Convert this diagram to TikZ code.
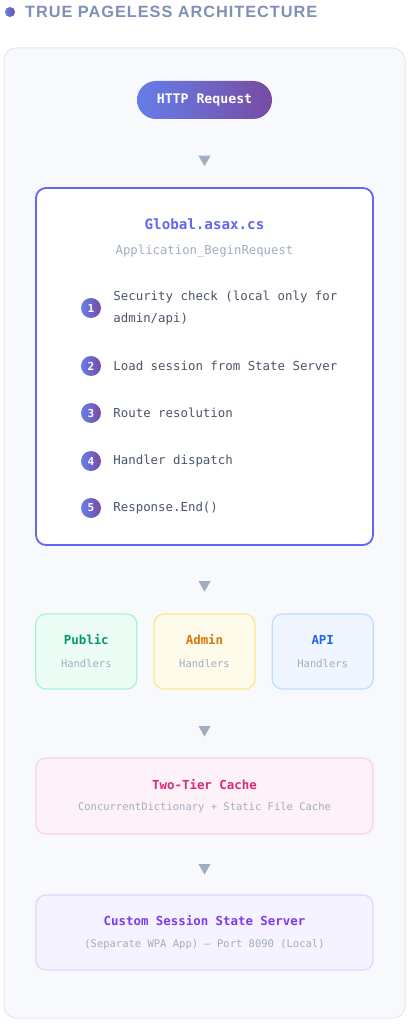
\documentclass[tikz,border=0pt]{standalone}
\usepackage{fontspec}
\usepackage{xcolor}
\usetikzlibrary{positioning, calc, shapes.geometric}
\newfontfamily\codefont{DejaVu Sans Mono}
\newfontfamily\headfont[LetterSpace=6]{Liberation Sans}

\definecolor{gradA}{HTML}{667EEA}
\definecolor{gradB}{HTML}{764BA2}
\definecolor{panelfill}{HTML}{F8F9FC}
\definecolor{panelline}{HTML}{E2E8F0}
\definecolor{indigo}{HTML}{6366F1}
\definecolor{muted}{HTML}{A0AEC0}
\definecolor{steptext}{HTML}{4A5568}
\definecolor{headgray}{HTML}{7F8FB6}
\definecolor{pubfill}{HTML}{ECFDF5}
\definecolor{publine}{HTML}{A7F3D0}
\definecolor{pubtext}{HTML}{059669}
\definecolor{admfill}{HTML}{FFFBEB}
\definecolor{admline}{HTML}{FDE68A}
\definecolor{admtext}{HTML}{D97706}
\definecolor{apifill}{HTML}{EFF6FF}
\definecolor{apiline}{HTML}{BFDBFE}
\definecolor{apitext}{HTML}{2563EB}
\definecolor{cachefill}{HTML}{FDF2F8}
\definecolor{cacheline}{HTML}{FBCFE8}
\definecolor{cachetext}{HTML}{DB2777}
\definecolor{sessfill}{HTML}{F5F3FF}
\definecolor{sessline}{HTML}{DDD6FE}
\definecolor{sesstext}{HTML}{7C3AED}

\def\midx{204.5}
\def\fullwidth{337}
\def\smallwidth{101}
\def\boxheight{75}

\tikzset{
  panel/.style={draw=panelline, line width=1pt, fill=panelfill, rounded corners=12pt},
  pill/.style={rounded corners=19pt, left color=gradA, right color=gradB, minimum width=135pt,
    minimum height=38pt, text=white, font=\codefont\bfseries\fontsize{13.2}{15}\selectfont},
  mainbox/.style={draw=indigo, line width=1.8pt, fill=white, rounded corners=10pt,
    minimum width=\fullwidth pt, minimum height=357pt},
  layerbox/.style={line width=1.2pt, rounded corners=10pt, minimum height=\boxheight pt},
  boxtitle/.style={font=\codefont\bfseries\fontsize{12.4}{14}\selectfont, inner sep=0pt},
  boxsub/.style={text=muted, font=\codefont\fontsize{10.5}{12}\selectfont, inner sep=0pt},
  stepdot/.style={circle, left color=gradA, right color=gradB, minimum size=20pt, inner sep=0pt,
    text=white, font=\codefont\bfseries\fontsize{11}{12}\selectfont},
  steplabel/.style={anchor=west, inner sep=0pt, align=left, text=steptext,
    font=\codefont\fontsize{12.4}{22}\selectfont},
  downtri/.style={regular polygon, regular polygon sides=3, shape border rotate=180,
    fill=muted, inner sep=0pt, minimum size=14pt}
}

\begin{document}
\begin{tikzpicture}[x=1pt, y=-1pt]
\useasboundingbox (0,0) rectangle (409,1024);

% heading
\shade[left color=gradA, right color=gradB] (10,12) circle (5);
\node[anchor=west, inner sep=0pt, text=headgray, font=\headfont\bfseries\fontsize{16.3}{18}\selectfont]
  (heading) at (25,12) {TRUE PAGELESS ARCHITECTURE};

% outer panel
\draw[panel] (4,48) rectangle (405,1018);

% request
\node[pill] (http) at (\midx,100) {HTTP Request};

% global.asax
\node[mainbox] (global) at (\midx,366.5) {};
\node[boxtitle, text=indigo, font=\codefont\bfseries\fontsize{14.2}{16}\selectfont]
  (globalT) at (\midx,224) {Global.asax.cs};
\node[boxsub, font=\codefont\fontsize{12.3}{14}\selectfont] (globalS) at (\midx,251) {Application\_BeginRequest};

\foreach \n/\y/\txt in {1/308/{Security check (local only for\\admin/api)},
                        2/366/{Load session from State Server},
                        3/413/{Route resolution},
                        4/461/{Handler dispatch},
                        5/508/{Response.End()}}{
  \node[stepdot] (dot\n) at (91,\y) {\n};
  \node[steplabel, right=12pt of dot\n] (step\n) {\txt};
}

% handlers
\node[layerbox, draw=admline, fill=admfill, minimum width=\smallwidth pt] (admin) at (\midx,651.5) {};
\node[layerbox, draw=publine, fill=pubfill, minimum width=\smallwidth pt, left=16pt of admin] (public) {};
\node[layerbox, draw=apiline, fill=apifill, minimum width=\smallwidth pt, right=16pt of admin] (api) {};

\foreach \h/\lbl/\col in {public/Public/pubtext, admin/Admin/admtext, api/API/apitext}{
  \node[boxtitle, text=\col] (\h T) at ([yshift=11.5pt]\h.center) {\lbl};
  \node[boxsub] (\h S) at ([yshift=-12.5pt]\h.center) {Handlers};
}

% cache
\node[layerbox, draw=cacheline, fill=cachefill, minimum width=\fullwidth pt, minimum height=76pt]
  (cache) at (\midx,796) {};
\node[boxtitle, text=cachetext] (cacheT) at ([yshift=11pt]cache.center) {Two-Tier Cache};
\node[boxsub] (cacheS) at ([yshift=-12pt]cache.center) {ConcurrentDictionary + Static File Cache};

% session server
\node[layerbox, draw=sessline, fill=sessfill, minimum width=\fullwidth pt] (session) at (\midx,932.5) {};
\node[boxtitle, text=sesstext] (sessionT) at ([yshift=11.5pt]session.center) {Custom Session State Server};
\node[boxsub] (sessionS) at ([yshift=-12.5pt]session.center) {(Separate WPA App) — Port 8090 (Local)};

% flow markers
\node[downtri] (tri1) at ([yshift=-6pt]$(http.south)!0.5!(global.north)$) {};
\node[downtri] (tri2) at ([yshift=-5pt]$(global.south)!0.5!(admin.north)$) {};
\node[downtri] (tri3) at ([yshift=-6pt]$(admin.south)!0.5!(cache.north)$) {};
\node[downtri] (tri4) at ([yshift=-3pt]$(cache.south)!0.5!(session.north)$) {};

\end{tikzpicture}
\end{document}
